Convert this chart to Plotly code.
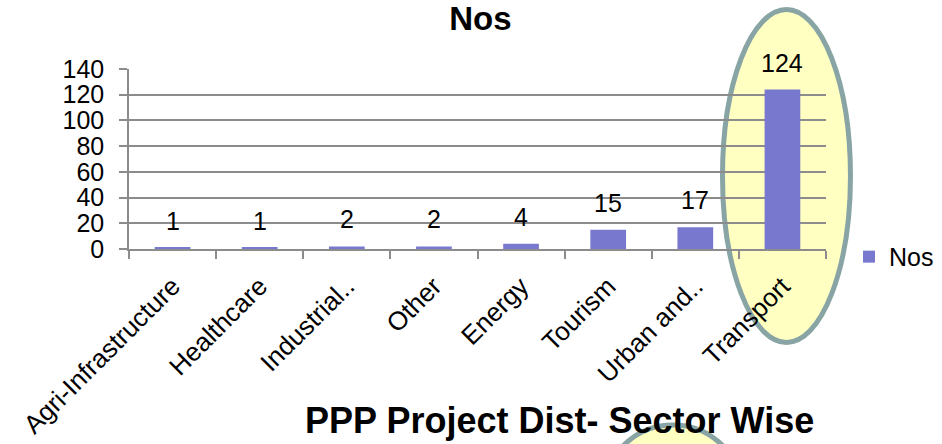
import plotly.graph_objects as go

# data
sectors = ['Agri-Infrastructure', 'Healthcare', 'Industrial..', 'Other', 'Energy',
           'Tourism', 'Urban and..', 'Transport']
nos = [1, 1, 2, 2, 4, 15, 17, 124]
y_ticks = [0, 20, 40, 60, 80, 100, 120, 140]

font = 'Liberation Sans, Arial, sans-serif'
bar_color = '#7878cf'
grid_color = '#8c8c8c'
ring_color = '#88a4a4'
ring_fill = '#ffffc2'

fig = go.Figure()
fig.add_trace(go.Bar(
    x=sectors,
    y=nos,
    name='Nos',
    marker=dict(color=bar_color, line=dict(width=0))))

# value labels above the bars
for s, v in zip(sectors, nos):
    fig.add_annotation(x=s, y=v, text=str(v), showarrow=False, yshift=27,
                       yanchor='middle', font=dict(size=25, color='black', family=font))

# highlight ring round Transport (behind the plot)
fig.add_shape(type='circle', xref='paper', yref='paper', layer='below',
              x0=0.8515, x1=1.0351, y0=-0.5194, y1=1.3306,
              line=dict(color=ring_color, width=5), fillcolor=ring_fill)
# second ring peeking in from the bottom
fig.add_shape(type='circle', xref='paper', yref='paper', layer='above',
              x0=0.680, x1=0.881, y0=-1.756, y1=-0.978,
              line=dict(color=ring_color, width=5), fillcolor=ring_fill)

fig.add_annotation(xref='paper', yref='paper', x=0.618, y=-0.95,
                   text='<b>PPP Project Dist- Sector Wise</b>', showarrow=False,
                   yanchor='middle', font=dict(size=36, color='black', family=font))

fig.update_layout(
    width=942, height=444,
    margin=dict(l=129, r=116, t=69, b=195, autoexpand=False),
    paper_bgcolor='white',
    plot_bgcolor='rgba(0,0,0,0)',
    font=dict(family=font, color='black'),
    title=dict(text='<b>Nos</b>', x=0.51, xanchor='center', y=0.959, yanchor='middle',
               font=dict(size=33, color='black', family=font)),
    bargap=0.59,
    showlegend=True,
    legend=dict(x=1.033, y=-0.044, xanchor='left', yanchor='middle',
                font=dict(size=25, color='black'), bgcolor='rgba(0,0,0,0)'),
    xaxis=dict(
        type='category', tickangle=-45, tickfont=dict(size=26, color='black'),
        tickson='boundaries', ticklabelstandoff=10,
        showgrid=False, zeroline=False,
        showline=True, linecolor=grid_color, linewidth=1.5,
        ticks='outside', ticklen=8, tickcolor=grid_color, tickwidth=1.5),
    yaxis=dict(
        range=[0, 140], tickvals=y_ticks, tickfont=dict(size=25, color='black'),
        showgrid=True, gridcolor=grid_color, gridwidth=1.5, zeroline=False,
        showline=True, linecolor=grid_color, linewidth=1.5,
        ticks='outside', ticklen=8, tickcolor=grid_color, tickwidth=1.5,
        ticklabelstandoff=10),
)

# page body has an 8px default margin; drop it so the figure fills the window
fig.write_html('out.html', config={'displayModeBar': False},
               post_script="document.body.style.margin='0px';")
